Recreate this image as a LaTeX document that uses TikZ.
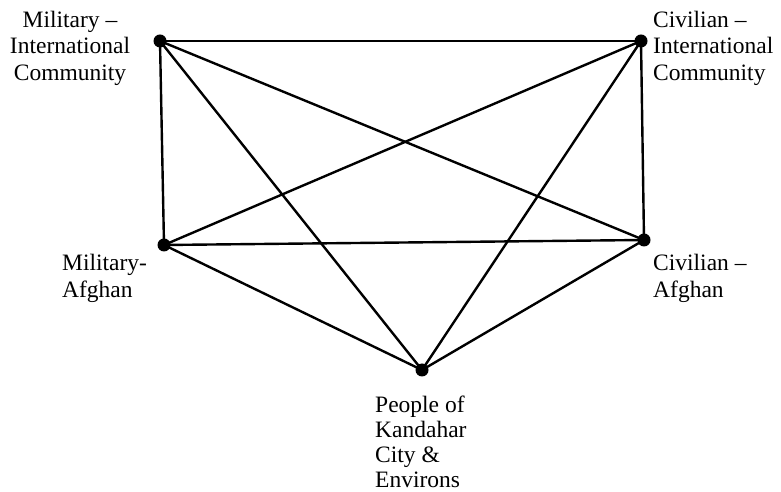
\documentclass[tikz,border=0pt]{standalone}
\usepackage{fontspec}
\setmainfont{Liberation Serif}
\begin{document}
\begin{tikzpicture}[x=1pt,y=1pt,
  dot/.style={circle,fill=black,inner sep=0pt,minimum size=13pt},
  edge/.style={line width=2.4pt},
  lbl/.style={font=\fontsize{23.5}{26.5}\selectfont,inner sep=0pt}]
\useasboundingbox (0,0) rectangle (781,492);
% vertices
\node[dot] (mi) at (160,451) {};
\node[dot] (ci) at (641,451) {};
\node[dot] (ma) at (164,247) {};
\node[dot] (ca) at (644,252) {};
\node[dot] (p)  at (422,122) {};
% edges
\foreach \a/\b in {mi/ci,mi/ma,mi/ca,mi/p,ci/ca,ci/ma,ci/p,ma/ca,ma/p,ca/p}
  \draw[edge] (\a.center) -- (\b.center);
% labels
\node[lbl,align=center,anchor=north] (lmi) at (70,481) {Military –\\International\\Community};
\node[lbl,align=left,anchor=north west] (lci) at (653,481) {Civilian –\\International\\Community};
\node[lbl,align=left,anchor=north west] (lma) at (62,238) {Military-\\Afghan};
\node[lbl,align=left,anchor=north west] (lca) at (653,238) {Civilian –\\Afghan};
\node[lbl,align=left,anchor=north west,font=\fontsize{23.5}{25}\selectfont] (lp) at (375,96) {People of\\Kandahar\\City \&\\Environs};
\end{tikzpicture}
\end{document}
